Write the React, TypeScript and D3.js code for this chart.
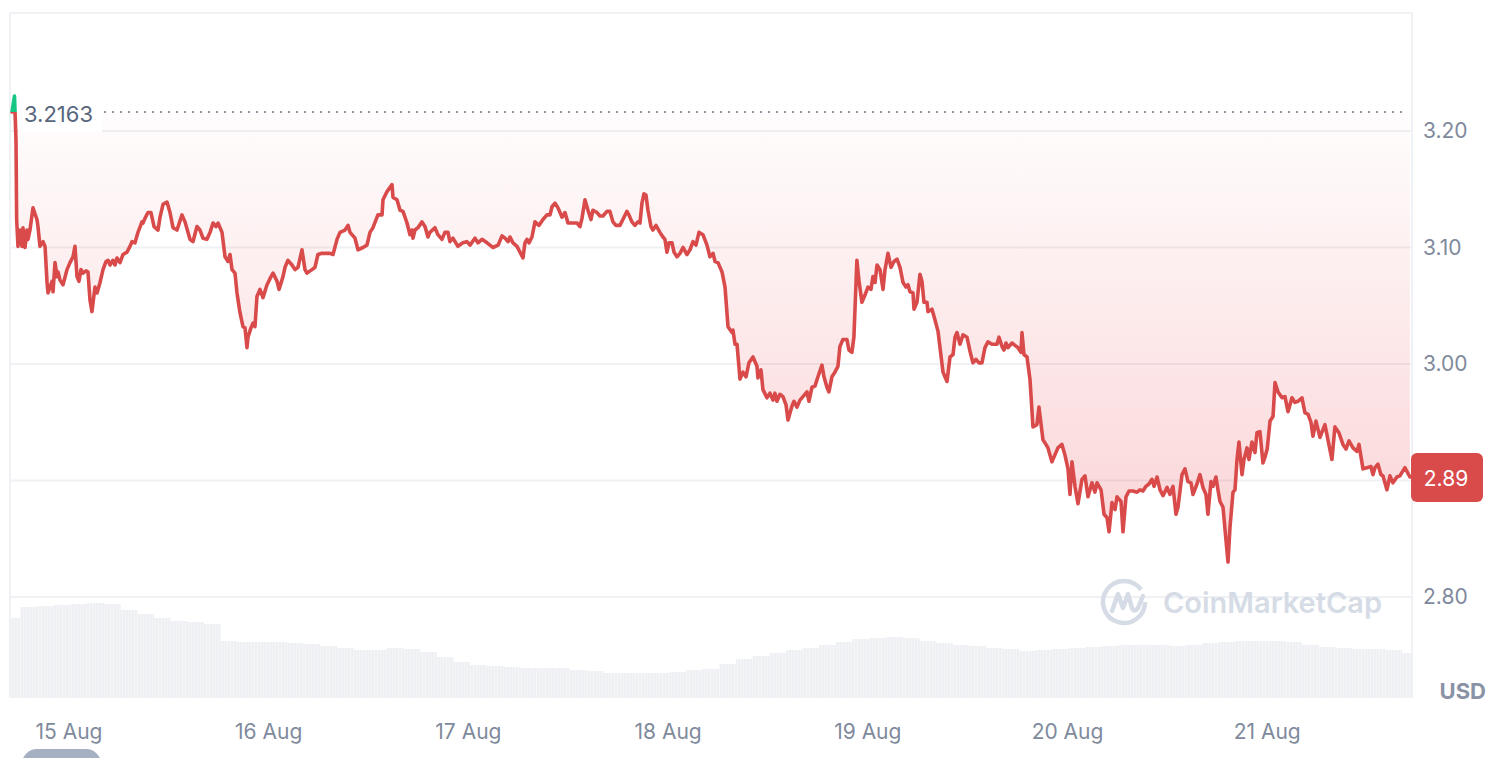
import React, { useEffect, useRef } from 'react';
import * as d3 from 'd3';

// [hour of day (UTC), price in USD]
type Pt = [number, number];

const aug14: Pt[] = [
  [17.15, 3.2163], [17.45, 3.23], [17.63, 3.192], [17.71, 3.124], [17.87, 3.101], [18.11, 3.115], [18.35, 3.101],
  [18.47, 3.117], [18.71, 3.1], [18.95, 3.115], [19.07, 3.107], [19.31, 3.115], [19.67, 3.134], [20.15, 3.124],
  [20.27, 3.118], [20.51, 3.101], [20.88, 3.105], [21.12, 3.101], [21.36, 3.07], [21.48, 3.061], [21.96, 3.071],
  [22.08, 3.062], [22.32, 3.087], [22.56, 3.075], [22.68, 3.079], [22.92, 3.072], [23.28, 3.068], [23.76, 3.081],
];
const aug15: Pt[] = [
  [0.12, 3.087], [0.48, 3.092], [0.72, 3.101], [0.96, 3.075], [1.2, 3.071], [1.44, 3.081], [1.68, 3.078],
  [2.04, 3.08], [2.28, 3.079], [2.52, 3.055], [2.76, 3.045], [3.12, 3.066], [3.37, 3.061], [3.73, 3.07],
  [4.09, 3.081], [4.45, 3.088], [4.69, 3.089], [4.93, 3.085], [5.29, 3.089], [5.53, 3.085], [5.77, 3.091],
  [6.13, 3.087], [6.49, 3.094], [6.97, 3.096], [7.33, 3.101], [7.57, 3.105], [7.93, 3.104], [8.29, 3.113],
  [8.77, 3.122], [8.89, 3.121], [9.13, 3.125], [9.49, 3.13], [9.85, 3.13], [10.22, 3.118], [10.7, 3.115],
  [10.94, 3.126], [11.3, 3.137], [11.78, 3.139], [12.14, 3.13], [12.5, 3.117], [12.98, 3.115], [13.58, 3.128],
  [13.94, 3.122], [14.54, 3.107], [14.9, 3.105], [15.38, 3.118], [15.74, 3.115], [16.1, 3.108], [16.58, 3.107],
  [16.95, 3.113], [17.31, 3.121], [17.67, 3.118], [17.91, 3.121], [18.39, 3.113], [18.75, 3.092], [19.11, 3.088],
  [19.35, 3.094], [19.59, 3.081], [19.95, 3.078], [20.19, 3.061], [20.55, 3.044], [20.91, 3.032], [21.15, 3.031],
  [21.39, 3.014], [21.51, 3.023], [21.87, 3.031], [22.11, 3.035], [22.35, 3.032], [22.59, 3.058], [22.95, 3.064],
  [23.31, 3.057], [23.8, 3.068],
];
const aug16: Pt[] = [
  [0.28, 3.075], [0.52, 3.078], [1.0, 3.071], [1.24, 3.064], [1.72, 3.075], [1.96, 3.083], [2.32, 3.089],
  [2.8, 3.085], [3.16, 3.081], [3.52, 3.083], [4.0, 3.098], [4.36, 3.081], [4.6, 3.078], [5.2, 3.081],
  [5.56, 3.083], [5.92, 3.094], [6.4, 3.095], [7.37, 3.095], [7.73, 3.094], [8.21, 3.107], [8.57, 3.113],
  [9.17, 3.115], [9.53, 3.119], [9.77, 3.113], [10.37, 3.108], [10.73, 3.098], [11.33, 3.1], [11.81, 3.102],
  [12.17, 3.113], [12.53, 3.117], [13.13, 3.128], [13.62, 3.128], [13.74, 3.141], [14.22, 3.148], [14.82, 3.154],
  [14.94, 3.143], [15.42, 3.141], [15.78, 3.132], [16.14, 3.131], [16.62, 3.121], [16.98, 3.111], [17.22, 3.115],
  [17.34, 3.108], [17.58, 3.115], [17.94, 3.117], [18.42, 3.122], [18.78, 3.118], [19.14, 3.109], [19.38, 3.113],
  [19.98, 3.117], [20.34, 3.111], [20.82, 3.107], [21.18, 3.113], [21.54, 3.113], [21.78, 3.105], [22.14, 3.108],
  [22.74, 3.101], [23.34, 3.104], [23.82, 3.105],
];
const aug17: Pt[] = [
  [0.19, 3.102], [0.79, 3.108], [1.15, 3.104], [1.63, 3.107], [2.24, 3.104], [2.96, 3.1], [3.56, 3.102],
  [4.04, 3.11], [4.4, 3.108], [4.76, 3.105], [5.0, 3.109], [5.36, 3.104], [5.84, 3.101], [6.2, 3.096],
  [6.56, 3.091], [6.8, 3.104], [7.04, 3.107], [7.28, 3.104], [7.64, 3.109], [8.0, 3.122], [8.48, 3.119],
  [8.96, 3.124], [9.44, 3.128], [9.81, 3.128], [10.05, 3.135], [10.41, 3.138], [10.77, 3.134], [11.25, 3.126],
  [11.61, 3.13], [11.97, 3.121], [12.45, 3.121], [13.05, 3.121], [13.41, 3.118], [13.65, 3.125], [14.01, 3.141],
  [14.37, 3.132], [14.73, 3.124], [14.97, 3.132], [15.45, 3.13], [15.81, 3.127], [16.17, 3.127], [16.65, 3.131],
  [17.01, 3.131], [17.37, 3.122], [17.73, 3.119], [18.21, 3.119], [18.57, 3.124], [19.05, 3.131], [19.29, 3.128],
  [19.65, 3.122], [20.01, 3.119], [20.37, 3.122], [20.62, 3.121], [20.86, 3.138], [21.1, 3.146], [21.34, 3.145],
  [21.58, 3.132], [21.94, 3.118], [22.18, 3.115], [22.54, 3.119], [23.02, 3.113], [23.38, 3.109], [23.62, 3.107],
  [23.86, 3.096],
];
const aug18: Pt[] = [
  [0.11, 3.104], [0.47, 3.104], [0.71, 3.096], [1.07, 3.092], [1.43, 3.095], [1.79, 3.1], [2.27, 3.094],
  [2.63, 3.098], [2.99, 3.105], [3.35, 3.102], [3.71, 3.113], [4.19, 3.111], [4.67, 3.102], [5.03, 3.092],
  [5.4, 3.095], [5.64, 3.088], [6.0, 3.087], [6.48, 3.079], [6.84, 3.066], [7.2, 3.032], [7.68, 3.027],
  [7.8, 3.029], [8.04, 3.017], [8.28, 3.017], [8.64, 2.987], [9.0, 2.993], [9.36, 2.989], [9.72, 3.001],
  [10.2, 3.006], [10.68, 2.998], [10.8, 2.988], [11.16, 2.995], [11.4, 2.978], [11.88, 2.971], [12.24, 2.975],
  [12.6, 2.969], [12.84, 2.975], [13.08, 2.968], [13.44, 2.974], [13.8, 2.972], [14.17, 2.965], [14.41, 2.952],
  [14.89, 2.964], [15.13, 2.968], [15.49, 2.963], [15.85, 2.969], [16.21, 2.972], [16.69, 2.976], [16.93, 2.968],
  [17.29, 2.98], [17.65, 2.981], [18.01, 2.989], [18.49, 2.999], [18.73, 2.989], [19.09, 2.98], [19.33, 2.976],
  [19.69, 2.989], [20.05, 2.993], [20.41, 2.998], [20.65, 3.015], [21.01, 3.021], [21.49, 3.021], [21.73, 3.012],
  [22.09, 3.01], [22.33, 3.023], [22.69, 3.089], [22.93, 3.072], [23.29, 3.053], [23.65, 3.059],
];
const aug19: Pt[] = [
  [0.02, 3.066], [0.38, 3.064], [0.62, 3.075], [0.87, 3.07], [1.11, 3.085], [1.47, 3.081], [1.83, 3.064],
  [2.07, 3.081], [2.43, 3.095], [2.79, 3.083], [3.15, 3.088], [3.51, 3.09], [3.87, 3.083], [4.23, 3.07],
  [4.59, 3.066], [4.83, 3.068], [5.07, 3.062], [5.43, 3.061], [5.55, 3.047], [5.91, 3.053], [6.27, 3.077],
  [6.51, 3.071], [6.75, 3.053], [7.11, 3.053], [7.23, 3.045], [7.71, 3.047], [8.07, 3.038], [8.44, 3.028],
  [9.04, 2.993], [9.52, 2.985], [9.88, 3.006], [10.24, 3.008], [10.48, 3.023], [10.72, 3.027], [11.08, 3.017],
  [11.44, 3.025], [11.92, 3.023], [12.28, 3.011], [12.64, 3.001], [13.0, 3.004], [13.36, 3.001], [13.72, 3.001],
  [14.08, 3.014], [14.44, 3.019], [14.92, 3.017], [15.52, 3.017], [15.77, 3.023], [16.13, 3.015], [16.37, 3.012],
  [16.61, 3.018], [16.85, 3.014], [17.33, 3.018], [17.69, 3.016], [18.05, 3.014], [18.41, 3.01], [18.53, 3.027],
  [18.77, 3.008], [19.13, 3.006], [19.49, 2.987], [19.85, 2.946], [20.33, 2.948], [20.57, 2.963], [21.05, 2.935],
  [21.41, 2.931], [21.65, 2.928], [22.13, 2.916], [22.49, 2.922], [22.85, 2.928], [23.33, 2.931], [23.69, 2.922],
];
const aug20: Pt[] = [
  [0.06, 2.91], [0.3, 2.888], [0.54, 2.916], [0.9, 2.895], [1.26, 2.88], [1.74, 2.901], [2.1, 2.904],
  [2.46, 2.886], [2.94, 2.898], [3.3, 2.89], [3.55, 2.898], [4.03, 2.892], [4.39, 2.871], [4.75, 2.868],
  [4.99, 2.856], [5.35, 2.881], [5.71, 2.875], [5.95, 2.886], [6.43, 2.882], [6.67, 2.856], [7.03, 2.886],
  [7.39, 2.891], [7.87, 2.891], [8.35, 2.89], [8.71, 2.892], [9.07, 2.891], [9.43, 2.895], [9.79, 2.897],
  [10.15, 2.901], [10.4, 2.895], [10.76, 2.903], [11.12, 2.892], [11.48, 2.887], [11.96, 2.894], [12.32, 2.888],
  [12.68, 2.895], [13.04, 2.871], [13.28, 2.877], [13.76, 2.905], [14.12, 2.91], [14.48, 2.899], [14.84, 2.898],
  [15.08, 2.888], [15.56, 2.897], [15.92, 2.905], [16.28, 2.894], [16.64, 2.888], [16.88, 2.871], [17.24, 2.899],
  [17.48, 2.895], [17.84, 2.903], [18.08, 2.892], [18.33, 2.882], [18.69, 2.877], [18.93, 2.858], [19.29, 2.83],
  [19.53, 2.86], [19.89, 2.89], [20.13, 2.892], [20.37, 2.918], [20.61, 2.933], [20.97, 2.905], [21.21, 2.918],
  [21.57, 2.928], [21.81, 2.918], [22.17, 2.933], [22.53, 2.924], [22.77, 2.941], [23.13, 2.942], [23.49, 2.915],
  [23.73, 2.92],
];
const aug21: Pt[] = [
  [0.0, 2.927], [0.34, 2.951], [0.7, 2.955], [0.94, 2.984], [1.3, 2.976], [1.78, 2.971], [2.14, 2.972],
  [2.5, 2.959], [2.98, 2.971], [3.34, 2.967], [3.7, 2.968], [4.18, 2.971], [4.54, 2.958], [4.9, 2.957],
  [5.26, 2.95], [5.5, 2.938], [5.86, 2.951], [6.34, 2.937], [6.94, 2.948], [7.3, 2.935], [7.78, 2.918],
  [8.14, 2.946], [8.62, 2.941], [9.1, 2.931], [9.47, 2.927], [9.83, 2.934], [10.31, 2.928], [10.79, 2.925],
  [11.03, 2.931], [11.51, 2.91], [11.99, 2.911], [12.47, 2.912], [12.71, 2.905], [12.95, 2.911], [13.31, 2.914],
  [13.67, 2.905], [13.91, 2.904], [14.39, 2.892], [14.75, 2.904], [15.11, 2.898], [15.59, 2.903], [15.95, 2.904],
  [16.55, 2.911], [17.15, 2.903],
];

const priceDays: [number, Pt[]][] = [
  [14, aug14], [15, aug15], [16, aug16], [17, aug17], [18, aug18], [19, aug19], [20, aug20], [21, aug21],
];

// 2-hourly volume (relative units), first bar at 14 Aug 17:09
const volumeStartHour = 17.15;
const volumes = [
  80, 91, 92, 93, 94, 95, 94, 88, 84, 80, 77, 76, 74, 57, 56, 56, 56, 55, 54, 52, 50, 48, 48, 50, 49, 46, 41,
  36, 33, 32, 31, 30, 30, 30, 28, 27, 25, 25, 25, 25, 26, 28, 29, 34, 39, 42, 45, 48, 50, 53, 56, 59, 60, 61,
  60, 57, 55, 53, 52, 50, 49, 47, 48, 49, 50, 51, 52, 53, 53, 53, 52, 53, 55, 56, 57, 57, 57, 56, 53, 51, 50,
  49, 49, 48, 45,
];

const yTicks = [2.8, 2.9, 3.0, 3.1, 3.2];
const dayTicks = [15, 16, 17, 18, 19, 20, 21];
const openPrice = 3.2163;
const lastPriceLabel = '2.89';

const W = 1488;
const H = 758;
const RED = '#d94b4b';
const GREEN = '#16c784';
const FONT = 'Inter, "Noto Sans", sans-serif';

const at = (day: number, hour: number) => new Date(Date.UTC(2024, 7, day) + hour * 3600e3);

export default function App() {
  const svgRef = useRef<SVGSVGElement>(null);

  useEffect(() => {
    document.body.style.margin = '0';
    if (!svgRef.current) return;
    const svg = d3.select(svgRef.current);
    svg.selectAll('*').remove();

    const plot = { left: 10, right: 1412, top: 13, bottom: 698 };

    const x = d3.scaleUtc().domain([at(15, 0), at(21, 0)]).range([69, 1267.2]);
    const y = d3.scaleLinear().domain([2.8, 3.2]).range([597, 131]);
    const yVol = d3.scaleLinear().domain([0, 100]).range([plot.bottom, plot.bottom - 100]);

    const data = priceDays.flatMap(([day, pts]) => pts.map(([h, p]) => ({ t: at(day, h), p })));
    const baseY = y(openPrice);
    const minY = y(d3.min(data, d => d.p) as number);
    const last = data[data.length - 1];
    const ly = y(last.p);

    const defs = svg.append('defs');
    const gradRed = defs.append('linearGradient').attr('id', 'gRed')
      .attr('gradientUnits', 'userSpaceOnUse').attr('x1', 0).attr('x2', 0).attr('y1', baseY).attr('y2', minY);
    gradRed.append('stop').attr('offset', 0).attr('stop-color', '#ea3943').attr('stop-opacity', 0.01);
    gradRed.append('stop').attr('offset', 1).attr('stop-color', '#ea3943').attr('stop-opacity', 0.22);
    const gradGreen = defs.append('linearGradient').attr('id', 'gGreen')
      .attr('gradientUnits', 'userSpaceOnUse').attr('x1', 0).attr('x2', 0).attr('y1', baseY).attr('y2', baseY - 20);
    gradGreen.append('stop').attr('offset', 0).attr('stop-color', GREEN).attr('stop-opacity', 0.02);
    gradGreen.append('stop').attr('offset', 1).attr('stop-color', GREEN).attr('stop-opacity', 0.2);

    defs.append('clipPath').attr('id', 'below').append('rect')
      .attr('x', 0).attr('y', baseY).attr('width', W).attr('height', H - baseY);
    defs.append('clipPath').attr('id', 'above').append('rect')
      .attr('x', 0).attr('y', 0).attr('width', W).attr('height', baseY);
    defs.append('clipPath').attr('id', 'plotClip').append('rect')
      .attr('x', plot.left).attr('y', plot.top).attr('width', plot.right - plot.left).attr('height', plot.bottom - plot.top);

    const pat = defs.append('pattern').attr('id', 'vstripe').attr('patternUnits', 'userSpaceOnUse')
      .attr('width', 3).attr('height', 10);
    pat.append('rect').attr('width', 3).attr('height', 10).attr('fill', '#f4f5f7');
    pat.append('rect').attr('width', 2).attr('height', 10).attr('fill', '#eef0f3');

    // frame
    svg.append('path')
      .attr('d', `M${plot.left},${plot.bottom}V${plot.top}H${plot.right}V${plot.bottom}`)
      .attr('fill', 'none').attr('stroke', '#eff1f4').attr('stroke-width', 2);

    // grid
    svg.append('g').selectAll('line').data(yTicks).enter().append('line')
      .attr('x1', plot.left).attr('x2', plot.right)
      .attr('y1', d => y(d)).attr('y2', d => y(d))
      .attr('stroke', '#eff1f4').attr('stroke-width', 2);

    // volume
    const stepMs = 2 * 3600e3;
    const t0 = at(14, volumeStartHour).getTime();
    svg.append('g').attr('clip-path', 'url(#plotClip)')
      .selectAll('rect').data(volumes).enter().append('rect')
      .attr('x', (_, i) => x(new Date(t0 + i * stepMs - stepMs / 2)))
      .attr('width', x(new Date(t0 + stepMs)) - x(new Date(t0)) + 0.5)
      .attr('y', d => yVol(d))
      .attr('height', d => plot.bottom - yVol(d))
      .attr('fill', 'url(#vstripe)');

    // watermark
    const wm = svg.append('g').attr('transform', 'translate(1124,602)');
    wm.append('path')
      .attr('d', d3.arc()({ innerRadius: 21, outerRadius: 21, startAngle: 0.5 * Math.PI, endAngle: 2.3 * Math.PI }) as string)
      .attr('fill', 'none').attr('stroke', '#d6dce6').attr('stroke-width', 4.5);
    wm.append('path')
      .attr('d', 'M-12,9 L-6,-8 L-1,6 L4,-8 L8,6 Q10,11 14,6 L19,-6')
      .attr('fill', 'none').attr('stroke', '#d6dce6').attr('stroke-width', 4.5)
      .attr('stroke-linejoin', 'round').attr('stroke-linecap', 'round');
    svg.append('text').attr('x', 1163).attr('y', 613)
      .attr('font-family', FONT).attr('font-size', 29).attr('font-weight', 600)
      .attr('fill', '#d6dce6').text('CoinMarketCap');

    // area + line
    const area = d3.area<{ t: Date; p: number }>()
      .x(d => x(d.t)).y0(baseY).y1(d => y(d.p));
    const line = d3.line<{ t: Date; p: number }>()
      .x(d => x(d.t)).y(d => y(d.p));

    svg.append('path').datum(data).attr('d', area).attr('fill', 'url(#gRed)').attr('clip-path', 'url(#below)');
    svg.append('path').datum(data).attr('d', area).attr('fill', 'url(#gGreen)').attr('clip-path', 'url(#above)');

    // baseline dotted
    svg.append('line')
      .attr('x1', 104).attr('x2', 1406).attr('y1', baseY).attr('y2', baseY)
      .attr('stroke', '#8f98a9').attr('stroke-width', 2).attr('stroke-dasharray', '2,6');

    svg.append('path').datum(data).attr('d', line)
      .attr('fill', 'none').attr('stroke', RED).attr('stroke-width', 3.6)
      .attr('stroke-linejoin', 'round').attr('stroke-linecap', 'round')
      .attr('clip-path', 'url(#below)');
    svg.append('path').datum(data).attr('d', line)
      .attr('fill', 'none').attr('stroke', GREEN).attr('stroke-width', 3.6)
      .attr('stroke-linejoin', 'round').attr('stroke-linecap', 'round')
      .attr('clip-path', 'url(#above)');

    // open price label
    svg.append('rect').attr('x', 19).attr('y', baseY - 14).attr('width', 83).attr('height', 34).attr('fill', '#ffffff');
    svg.append('text').attr('x', 24).attr('y', baseY + 10)
      .attr('font-family', FONT).attr('font-size', 22).attr('fill', '#58667e')
      .text(d3.format('.4f')(openPrice));

    // y axis labels (the one under the price badge is hidden, as in the source)
    svg.append('g').selectAll('text').data(yTicks.filter(t => Math.abs(y(t) - ly) > 26)).enter().append('text')
      .attr('x', 1423).attr('y', d => y(d) + 7)
      .attr('font-family', FONT).attr('font-size', 21).attr('fill', '#808a9d')
      .text(d => d3.format('.2f')(d));

    svg.append('text').attr('x', 1486).attr('y', 699).attr('text-anchor', 'end')
      .attr('font-family', FONT).attr('font-size', 22).attr('font-weight', 700).attr('fill', '#8a92a5')
      .text('USD');

    // x axis labels
    svg.append('g').selectAll('text').data(dayTicks).enter().append('text')
      .attr('x', d => x(at(d, 0))).attr('y', 739).attr('text-anchor', 'middle')
      .attr('font-family', FONT).attr('font-size', 21).attr('fill', '#808a9d')
      .text(d => d3.utcFormat('%-d %b')(at(d, 0)));

    // last price badge
    svg.append('rect').attr('x', 1411).attr('y', ly - 24).attr('width', 72).attr('height', 49).attr('rx', 6)
      .attr('fill', RED);
    svg.append('text').attr('x', 1446).attr('y', ly + 8.5).attr('text-anchor', 'middle')
      .attr('font-family', FONT).attr('font-size', 21).attr('fill', '#ffffff')
      .text(lastPriceLabel);

    // bottom-left pill (range selector, cut off)
    svg.append('rect').attr('x', 22).attr('y', 749).attr('width', 79).attr('height', 30).attr('rx', 15)
      .attr('fill', '#a6b0c3');
  }, []);

  return <svg ref={svgRef} width={W} height={H} style={{ display: 'block', background: '#fff' }} />;
}
